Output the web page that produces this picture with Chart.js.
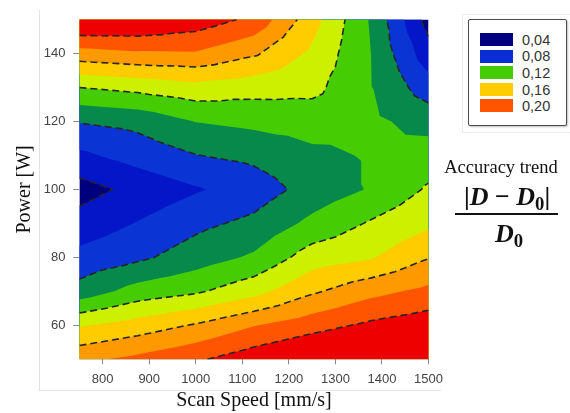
<!DOCTYPE html>
<html>
<head>
<meta charset="utf-8">
<script src="https://cdn.jsdelivr.net/npm/chart.js@4.4.1/dist/chart.umd.min.js"></script>
<style>
  html, body { margin:0; padding:0; background:#fff; width:570px; height:413px; overflow:hidden; position:relative; }
  #frameL { position:absolute; left:39px; top:10px; width:1px; height:381px; background:#e2e2e2; }
  #frameB { position:absolute; left:39px; top:390px; width:402px; height:1px; background:#e2e2e2; }
  #wrap { position:absolute; left:0; top:0; width:450px; height:413px; }
  #legendOuter { position:absolute; left:462px; top:14px; width:120px; height:119px; border:1px solid #ececec; box-sizing:border-box; }
  #legend { position:absolute; left:468px; top:19px; width:99px; height:107px; border:1.5px solid #4a4a4a; border-radius:2px; box-sizing:border-box; background:#fff; box-shadow:1px 1px 2px rgba(0,0,0,0.25); }
  .sw { position:absolute; left:11px; width:33px; height:13px; }
  .lb { position:absolute; left:53px; height:14px; line-height:14px; font-family:"Liberation Sans", Arial, sans-serif; font-size:14.5px; color:#333; }
  .serif { font-family:"Liberation Serif", "Times New Roman", serif; color:#111; position:absolute; text-align:center; white-space:nowrap; }
  #acc { left:430px; width:142px; top:157px; font-size:18.5px; line-height:20px; }
  #num { left:456px; width:102px; top:183px; font-size:26px; line-height:28px; font-weight:bold; }
  #bar { position:absolute; left:455px; top:213px; width:103px; height:2px; background:#111; }
  #den { left:456px; width:106px; top:220px; font-size:26px; line-height:28px; font-weight:bold; }
  sub { font-size:0.72em; vertical-align:-0.28em; line-height:0; font-style:normal; }
</style>
</head>
<body>
<div id="frameL"></div>
<div id="frameB"></div>
<div id="wrap"><canvas id="c" width="450" height="413"></canvas></div>
<div id="legendOuter"></div>
<div id="legend"></div>
<div id="acc" class="serif">Accuracy trend</div>
<div id="num" class="serif">|<i>D</i>&nbsp;−&nbsp;<i>D</i><sub>0</sub>|</div>
<div id="bar"></div>
<div id="den" class="serif"><i>D</i><sub>0</sub></div>
<script>
// ---- data ----
const speeds = [750, 875, 1000, 1125, 1250, 1375, 1500];           // Scan Speed [mm/s]
const powers = [50, 60, 70, 80, 90, 100, 110, 120, 130, 140, 150];  // Power [W]
// accuracy trend |D-D0|/D0 at each power, one array per scan speed
const acc750  = [0.175, 0.138, 0.088, 0.066, 0.048, 0.032, 0.056, 0.081, 0.120, 0.172, 0.225];
const acc875  = [0.185, 0.149, 0.108, 0.076, 0.061, 0.046, 0.068, 0.086, 0.126, 0.177, 0.222];
const acc1000 = [0.197, 0.162, 0.117, 0.090, 0.075, 0.058, 0.0795, 0.1005, 0.133, 0.178, 0.212];
const acc1125 = [0.212, 0.179, 0.133, 0.103, 0.085, 0.069, 0.085, 0.105, 0.128, 0.163, 0.195];
const acc1250 = [0.225, 0.192, 0.157, 0.130, 0.105, 0.088, 0.096, 0.108, 0.126, 0.136, 0.148];
const acc1375 = [0.235, 0.204, 0.174, 0.138, 0.122, 0.1015, 0.1015, 0.104, 0.101, 0.1005, 0.0985];
const acc1500 = [0.240, 0.212, 0.185, 0.159, 0.136, 0.1225, 0.109, 0.093, 0.069, 0.048, 0.032];
const accuracyBySpeed = [acc750, acc875, acc1000, acc1125, acc1250, acc1375, acc1500];

const bandLevels = [0.04, 0.06, 0.08, 0.10, 0.12, 0.14, 0.16, 0.18, 0.20];
const bandColors = ['#00007f', '#0416c8', '#0a34d4', '#06894a', '#46cc02', '#cdf000', '#ffcc00', '#ff9900', '#ff5500', '#ef0000'];
const dashedLevels = [0.04, 0.08, 0.12, 0.16, 0.20];
const xTickValues = [800, 900, 1000, 1100, 1200, 1300, 1400, 1500];
const yTickValues = [60, 80, 100, 120, 140];
const legendLabels = ['0,04', '0,08', '0,12', '0,16', '0,20'];
const legendColors = ['#00007f', '#0a2ed4', '#46cc02', '#ffcc00', '#ff5500'];

// ---- legend ----
(function(){
  const lg = document.getElementById('legend');
  const tops = [13, 29.5, 46, 63, 79];
  legendLabels.forEach((t, i) => {
    const s = document.createElement('div'); s.className = 'sw';
    s.style.top = tops[i] + 'px'; s.style.background = legendColors[i]; lg.appendChild(s);
    const l = document.createElement('div'); l.className = 'lb';
    l.style.top = (tops[i] - 0.5) + 'px'; l.textContent = t; lg.appendChild(l);
  });
})();

// ---- triangulated grid ----
function buildTriangles(){
  const tris = [];
  for (let i = 0; i < speeds.length - 1; i++) {
    for (let j = 0; j < powers.length - 1; j++) {
      const node = (a, b) => ({x: speeds[a], y: powers[b], v: accuracyBySpeed[a][b], id: 'n' + a + '_' + b});
      const A = node(i, j), B = node(i+1, j), C = node(i+1, j+1), D = node(i, j+1);
      const E = {x: (A.x + B.x) / 2, y: (A.y + D.y) / 2, v: (A.v + B.v + C.v + D.v) / 4, id: 'c' + i + '_' + j};
      tris.push([A, B, E], [B, C, E], [C, D, E], [D, A, E]);
    }
  }
  return tris;
}
function clipGE(poly, lvl){
  const out = [];
  for (let k = 0; k < poly.length; k++) {
    const a = poly[k], b = poly[(k+1) % poly.length];
    const ain = a.v >= lvl, bin = b.v >= lvl;
    if (ain) out.push(a);
    if (ain !== bin) {
      const t = (lvl - a.v) / (b.v - a.v);
      out.push({x: a.x + t*(b.x - a.x), y: a.y + t*(b.y - a.y), v: lvl});
    }
  }
  return out;
}

const contourPlugin = {
  id: 'contour',
  beforeDatasetsDraw(chart){
    const {ctx, chartArea: ca, scales: {x, y}} = chart;
    const tris = buildTriangles();
    const px = p => [x.getPixelForValue(p.x), y.getPixelForValue(p.y)];
    ctx.save();
    ctx.beginPath(); ctx.rect(ca.left, ca.top, ca.right - ca.left, ca.bottom - ca.top); ctx.clip();
    // filled bands, painted from lowest to highest
    for (let k = 0; k < bandColors.length; k++) {
      const lo = k === 0 ? -Infinity : bandLevels[k-1];
      ctx.beginPath();
      tris.forEach(t => {
        const p = clipGE(t, lo);
        if (p.length < 3) return;
        p.forEach((q, n) => { const [X, Y] = px(q); n ? ctx.lineTo(X, Y) : ctx.moveTo(X, Y); });
        ctx.closePath();
      });
      ctx.fillStyle = bandColors[k];
      ctx.fill();
    }
    // dashed contour lines (marching triangles, chained)
    ctx.setLineDash([7, 4]);
    ctx.lineWidth = 1.6;
    ctx.strokeStyle = '#262626';
    ctx.lineJoin = 'round';
    dashedLevels.forEach(L => {
      const pts = {}, adj = {};
      const key = (a, b) => a.id < b.id ? a.id + '|' + b.id : b.id + '|' + a.id;
      tris.forEach(t => {
        const cross = [];
        for (let e = 0; e < 3; e++) {
          const a = t[e], b = t[(e+1) % 3];
          if ((a.v >= L) !== (b.v >= L)) {
            const kk = key(a, b);
            const s = (L - a.v) / (b.v - a.v);
            pts[kk] = {x: a.x + s*(b.x - a.x), y: a.y + s*(b.y - a.y)};
            cross.push(kk);
          }
        }
        if (cross.length === 2) {
          (adj[cross[0]] = adj[cross[0]] || []).push(cross[1]);
          (adj[cross[1]] = adj[cross[1]] || []).push(cross[0]);
        }
      });
      const used = new Set();
      const segKey = (a, b) => a < b ? a + '#' + b : b + '#' + a;
      const walk = start => {
        const chain = [start]; let cur = start;
        while (true) {
          const nxt = (adj[cur] || []).find(n => !used.has(segKey(cur, n)));
          if (nxt === undefined) break;
          used.add(segKey(cur, nxt)); chain.push(nxt); cur = nxt;
        }
        return chain;
      };
      const starts = Object.keys(adj).sort((a, b) => adj[a].length - adj[b].length);
      starts.forEach(s => {
        if ((adj[s] || []).every(n => used.has(segKey(s, n)))) return;
        const chain = walk(s);
        if (chain.length < 2) return;
        ctx.beginPath();
        chain.forEach((kk, n) => { const [X, Y] = px(pts[kk]); n ? ctx.lineTo(X, Y) : ctx.moveTo(X, Y); });
        ctx.stroke();
      });
    });
    ctx.restore();
  }
};

new Chart(document.getElementById('c'), {
  type: 'scatter',
  data: { datasets: [{ data: [], pointRadius: 0 }] },
  plugins: [contourPlugin],
  options: {
    responsive: false,
    animation: false,
    layout: { padding: { top: 19.5, right: 20.4, left: 0, bottom: 0 } },
    plugins: { legend: { display: false }, tooltip: { enabled: false } },
    scales: {
      x: {
        type: 'linear', min: 750, max: 1500,
        afterBuildTicks: s => { s.ticks = xTickValues.map(v => ({value: v})); },
        afterFit: s => { s.height = 53.7; },
        ticks: { color: '#444', padding: 7, font: { family: 'Liberation Sans', size: 13 }, callback: v => String(v) },
        grid: { drawOnChartArea: false, drawTicks: true, tickLength: 5, color: '#8a8a8a' },
        border: { display: false },
        title: { display: true, text: 'Scan Speed [mm/s]', color: '#111', padding: { top: 0, bottom: 0 },
                 font: { family: 'Liberation Serif', size: 20 } }
      },
      y: {
        type: 'linear', min: 50, max: 150,
        afterBuildTicks: s => { s.ticks = yTickValues.map(v => ({value: v})); },
        afterFit: s => { s.width = 79.4; },
        ticks: { color: '#444', padding: 8, font: { family: 'Liberation Sans', size: 13 }, callback: v => String(v) },
        grid: { drawOnChartArea: false, drawTicks: true, tickLength: 6, color: '#8a8a8a' },
        border: { display: false },
        title: { display: true, text: 'Power [W]', color: '#111', padding: { top: 13, bottom: 0 },
                 font: { family: 'Liberation Serif', size: 20 } }
      }
    }
  }
});
</script>
</body>
</html>
